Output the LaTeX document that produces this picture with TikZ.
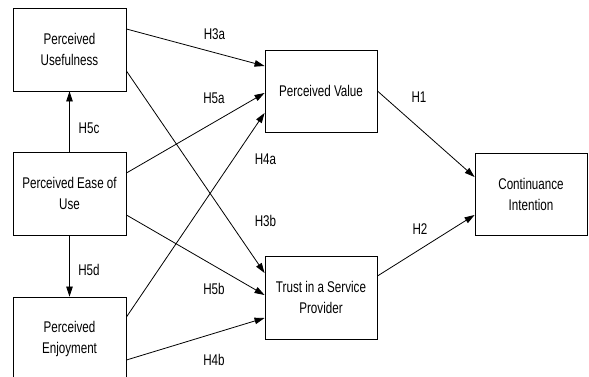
\documentclass[tikz,border=0pt]{standalone}
\usepackage{fontspec}
\setmainfont{Liberation Sans}[FakeStretch=0.75]
\usetikzlibrary{arrows.meta}

\tikzset{
  construct/.style={draw=black, line width=0.9pt, minimum width=113pt, minimum height=83pt,
    inner sep=0pt, align=center, font=\fontsize{15.5}{21}\selectfont},
  path/.style={draw=black, line width=0.8pt, -{Triangle[length=10pt,width=6.5pt]}},
  hyp/.style={font=\fontsize{15.5}{18}\selectfont, inner sep=0pt}
}

\begin{document}
\begin{tikzpicture}[x=1pt, y=-1pt]
  \useasboundingbox[fill=white] (0,0) rectangle (589,377);
  \clip (0,0) rectangle (589,377);

  % constructs
  \node[construct] (pu)   at (69.5,49.5)  {Perceived\\Usefulness};
  \node[construct] (peou) at (69.5,193.5) {Perceived Ease of\\Use};
  \node[construct] (pe)   at (69.5,338.5) {Perceived\\Enjoyment};
  \node[construct, minimum width=112pt, minimum height=82pt] (pv) at (321,91) {Perceived Value};
  \node[construct, minimum width=112pt] (tsp) at (321,297.5) {Trust in a Service\\Provider};
  \node[construct, minimum width=112pt, minimum height=82pt] (ci) at (531,194) {Continuance\\Intention};

  % hypothesised paths
  \draw[path] ([yshift=20.5pt]pu.east)   -- ([yshift=25pt]pv.west);
  \draw[path] ([yshift=-21.5pt]pu.east)  -- ([yshift=24.5pt]tsp.west);
  \draw[path] ([yshift=20.5pt]peou.east) -- ([yshift=-2pt]pv.west);
  \draw[path] ([yshift=-21.5pt]peou.east) -- ([yshift=2.5pt]tsp.west);
  \draw[path] ([yshift=21.5pt]pe.east)   -- ([yshift=-22pt]pv.west);
  \draw[path] ([yshift=-21.5pt]pe.east)  -- ([yshift=-20.5pt]tsp.west);
  \draw[path] (peou.north) -- (pu.south);
  \draw[path] (peou.south) -- (pe.north);
  \draw[path] (pv.east) -- ([yshift=17pt]ci.west);
  \draw[path] ([yshift=21.5pt]tsp.east) -- ([yshift=-21pt]ci.west);

  % hypothesis labels
  \node[hyp] (h3a) at (214.5,34.5) {H3a};
  \node[hyp] (h5a) at (214,98)     {H5a};
  \node[hyp] (h5c) at (89,128)     {H5c};
  \node[hyp] (h4a) at (265.5,159.5) {H4a};
  \node[hyp] (h3b) at (265.5,221)  {H3b};
  \node[hyp] (h5d) at (89,270)     {H5d};
  \node[hyp] (h5b) at (214,288.5)  {H5b};
  \node[hyp] (h4b) at (214,360)    {H4b};
  \node[hyp] (h1)  at (419,97.5)   {H1};
  \node[hyp] (h2)  at (420,229)    {H2};
\end{tikzpicture}
\end{document}
